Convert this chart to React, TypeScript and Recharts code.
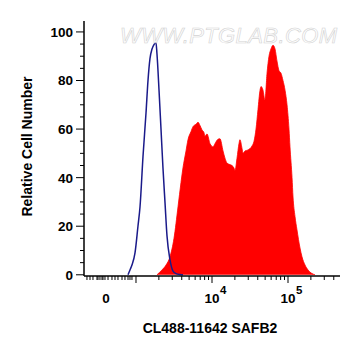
import React from 'react';
import { ComposedChart, Area, Line, XAxis, YAxis } from 'recharts';

// x values are in decades of fluorescence intensity (log10 scale position)
const isotypeX = [2.895, 2.921, 2.947, 2.987, 3.026, 3.053, 3.092, 3.132, 3.158, 3.184, 3.211, 3.237, 3.263, 3.276, 3.303, 3.329, 3.355, 3.382, 3.408, 3.447, 3.487, 3.526, 3.579, 3.618];
const isotypeY = [0, 2, 4, 9, 20, 28, 48.6, 66.7, 80, 89, 93, 94.8, 95.6, 91, 76, 60, 44, 29.6, 16, 6.2, 1.5, 0.5, 0.1, 0];

const sampleX = [3.276, 3.342, 3.395, 3.447, 3.5, 3.553, 3.592, 3.618, 3.658, 3.684, 3.724, 3.75, 3.789, 3.816, 3.842, 3.868, 3.895, 3.908, 3.934, 3.974, 4.013, 4.039, 4.079, 4.105, 4.145, 4.171, 4.197, 4.224, 4.263, 4.289, 4.303, 4.329, 4.355, 4.368, 4.395, 4.408, 4.434, 4.474, 4.526, 4.553, 4.579, 4.605, 4.632, 4.645, 4.671, 4.697, 4.724, 4.75, 4.776, 4.803, 4.829, 4.855, 4.882, 4.908, 4.934, 4.961, 4.987, 5.013, 5.026, 5.053, 5.066, 5.092, 5.118, 5.158, 5.184, 5.224, 5.263, 5.316, 5.355];
const sampleY = [0, 2, 4, 7.4, 15, 28, 38, 44, 51, 55.6, 59, 61, 62, 62.8, 61.5, 59.7, 58.5, 57, 58, 54, 52.7, 54, 55.8, 56, 51, 48, 46, 45.5, 45, 44, 43, 48, 54, 55.6, 52, 50, 51, 51.4, 53, 55, 60, 68, 76, 77.5, 76, 72, 83, 90, 93, 94.5, 93, 88, 84, 83, 80, 76, 70, 60, 52.7, 40, 32, 24, 18.5, 11, 7.4, 4, 2, 0.5, 0];

const xDomain = [2.316, 5.684];
const yDomain = [-0.5, 104.5];

const xNearZeroTicks = [2.355, 2.395, 2.434, 2.487, 2.5, 2.526, 2.553, 2.566, 2.592, 2.632, 2.684, 2.724, 2.763, 2.816, 2.855, 2.895, 2.921, 2.947];
const xMajorTicks = [3, 4, 5];
const xLogMinorTicks = [3.301, 3.477, 3.602, 3.699, 3.778, 3.845, 3.903, 3.954, 4.301, 4.477, 4.602, 4.699, 4.778, 4.845, 4.903, 4.954, 5.301, 5.477, 5.602];
const xZeroLabelPos = 2.605;
const xTickLabels: Record<string, { base: string; exp: string }> = {
  '2.605': { base: '0', exp: '' },
  '4': { base: '10', exp: '4' },
  '5': { base: '10', exp: '5' },
};

const yMajorTicks = [0, 20, 40, 60, 80, 100];
const yMinorTicks = [5, 10, 15, 25, 30, 35, 45, 50, 55, 65, 70, 75, 85, 90, 95];

const isotypeData = isotypeX.map((x, i) => ({ x, y: isotypeY[i] }));
const sampleData = sampleX.map((x, i) => ({ x, y: sampleY[i] }));
const xTicks = [...xNearZeroTicks, xZeroLabelPos, ...xMajorTicks, ...xLogMinorTicks].sort((a, b) => a - b);
const yTicks = [...yMajorTicks, ...yMinorTicks].sort((a, b) => a - b);

const FONT = '"Liberation Sans", Arial, sans-serif';

const XTick = (props: any) => {
  const { x, y, payload } = props;
  const v = payload.value;
  const lab = xTickLabels[String(v)];
  const isMajor = xMajorTicks.includes(v);
  const isLabelOnly = v === xZeroLabelPos;
  return (
    <g>
      {!isLabelOnly && (
        <line x1={x} x2={x} y1={y} y2={y + (isMajor ? 7 : 4)} stroke="#000" strokeWidth={1} />
      )}
      {lab && (
        <text x={x} y={y + 27} textAnchor="middle" fontFamily={FONT} fontWeight="bold" fontSize={13.5} fill="#000">
          {lab.base}
        </text>
      )}
      {lab && lab.exp && (
        <text x={x + 8} y={y + 18} textAnchor="start" fontFamily={FONT} fontWeight="bold" fontSize={11.5} fill="#000">
          {lab.exp}
        </text>
      )}
    </g>
  );
};

const YTick = (props: any) => {
  const { x, y, payload } = props;
  const v = payload.value;
  const isMajor = yMajorTicks.includes(v);
  return (
    <g>
      <line x1={x - (isMajor ? 8 : 4)} x2={x} y1={y} y2={y} stroke="#000" strokeWidth={1} />
      {isMajor && (
        <text x={x - 11} y={y} dy="0.36em" textAnchor="end" fontFamily={FONT} fontWeight="bold" fontSize={13.5} fill="#000">
          {v}
        </text>
      )}
    </g>
  );
};

const XTitle = (props: any) => {
  const vb = props.viewBox || { x: 84, y: 276, width: 256, height: 30 };
  return (
    <text x={vb.x + vb.width / 2 - 2} y={vb.y + 57} textAnchor="middle" fontFamily={FONT} fontWeight="bold" fontSize={14} fill="#000">
      CL488-11642 SAFB2
    </text>
  );
};

const YTitle = (props: any) => {
  const vb = props.viewBox || { x: 24, y: 21, width: 60, height: 255 };
  const cx = vb.x + 8;
  const cy = vb.y + vb.height / 2 - 2;
  return (
    <text x={cx} y={cy} transform={`rotate(-90, ${cx}, ${cy})`} textAnchor="middle" fontFamily={FONT} fontWeight="bold" fontSize={14} fill="#000">
      Relative Cell Number
    </text>
  );
};

export default function App() {
  return (
    <div style={{ position: 'absolute', left: 0, top: 0, width: 361, height: 356, background: '#fff' }}>
      <ComposedChart width={361} height={356} margin={{ top: 21, right: 21, bottom: 50, left: 24 }}>
        <XAxis
          xAxisId="bottom"
          type="number"
          dataKey="x"
          domain={xDomain}
          allowDataOverflow
          ticks={xTicks}
          interval={0}
          tickSize={0}
          tickMargin={0}
          tick={<XTick />}
          tickLine={false}
          axisLine={{ stroke: '#000', strokeWidth: 1.5 }}
          height={30}
          label={{ content: <XTitle /> }}
        />
        <XAxis
          xAxisId="top"
          orientation="top"
          type="number"
          dataKey="x"
          domain={xDomain}
          allowDataOverflow
          tick={false}
          tickLine={false}
          axisLine={{ stroke: '#000', strokeWidth: 1.5 }}
          height={0}
        />
        <YAxis
          yAxisId="left"
          type="number"
          domain={yDomain}
          allowDataOverflow
          ticks={yTicks}
          interval={0}
          tickSize={0}
          tickMargin={0}
          tick={<YTick />}
          tickLine={false}
          axisLine={{ stroke: '#000', strokeWidth: 1.5 }}
          width={60}
          label={{ content: <YTitle /> }}
        />
        <YAxis
          yAxisId="right"
          orientation="right"
          type="number"
          domain={yDomain}
          allowDataOverflow
          tick={false}
          tickLine={false}
          axisLine={{ stroke: '#000', strokeWidth: 1.5 }}
          width={0}
        />
        <Area
          xAxisId="bottom"
          yAxisId="left"
          data={sampleData}
          dataKey="y"
          type="monotone"
          stroke="#ff0000"
          strokeWidth={0.8}
          fill="#ff0000"
          fillOpacity={1}
          isAnimationActive={false}
          dot={false}
          activeDot={false}
        />
        <Line
          xAxisId="bottom"
          yAxisId="left"
          data={isotypeData}
          dataKey="y"
          type="monotone"
          stroke="#1a1a8a"
          strokeWidth={1.5}
          dot={false}
          activeDot={false}
          isAnimationActive={false}
        />
      </ComposedChart>
      <svg width={361} height={356} style={{ position: 'absolute', left: 0, top: 0, pointerEvents: 'none' }}>
        <text x={120} y={43} fontFamily={FONT} fontStyle="italic" fontSize={22} letterSpacing={0.4} fill="#ffffff" fillOpacity={0.7} stroke="#d2d2d2" strokeWidth={0.6}>
          WWW.PTGLAB.COM
        </text>
      </svg>
    </div>
  );
}
